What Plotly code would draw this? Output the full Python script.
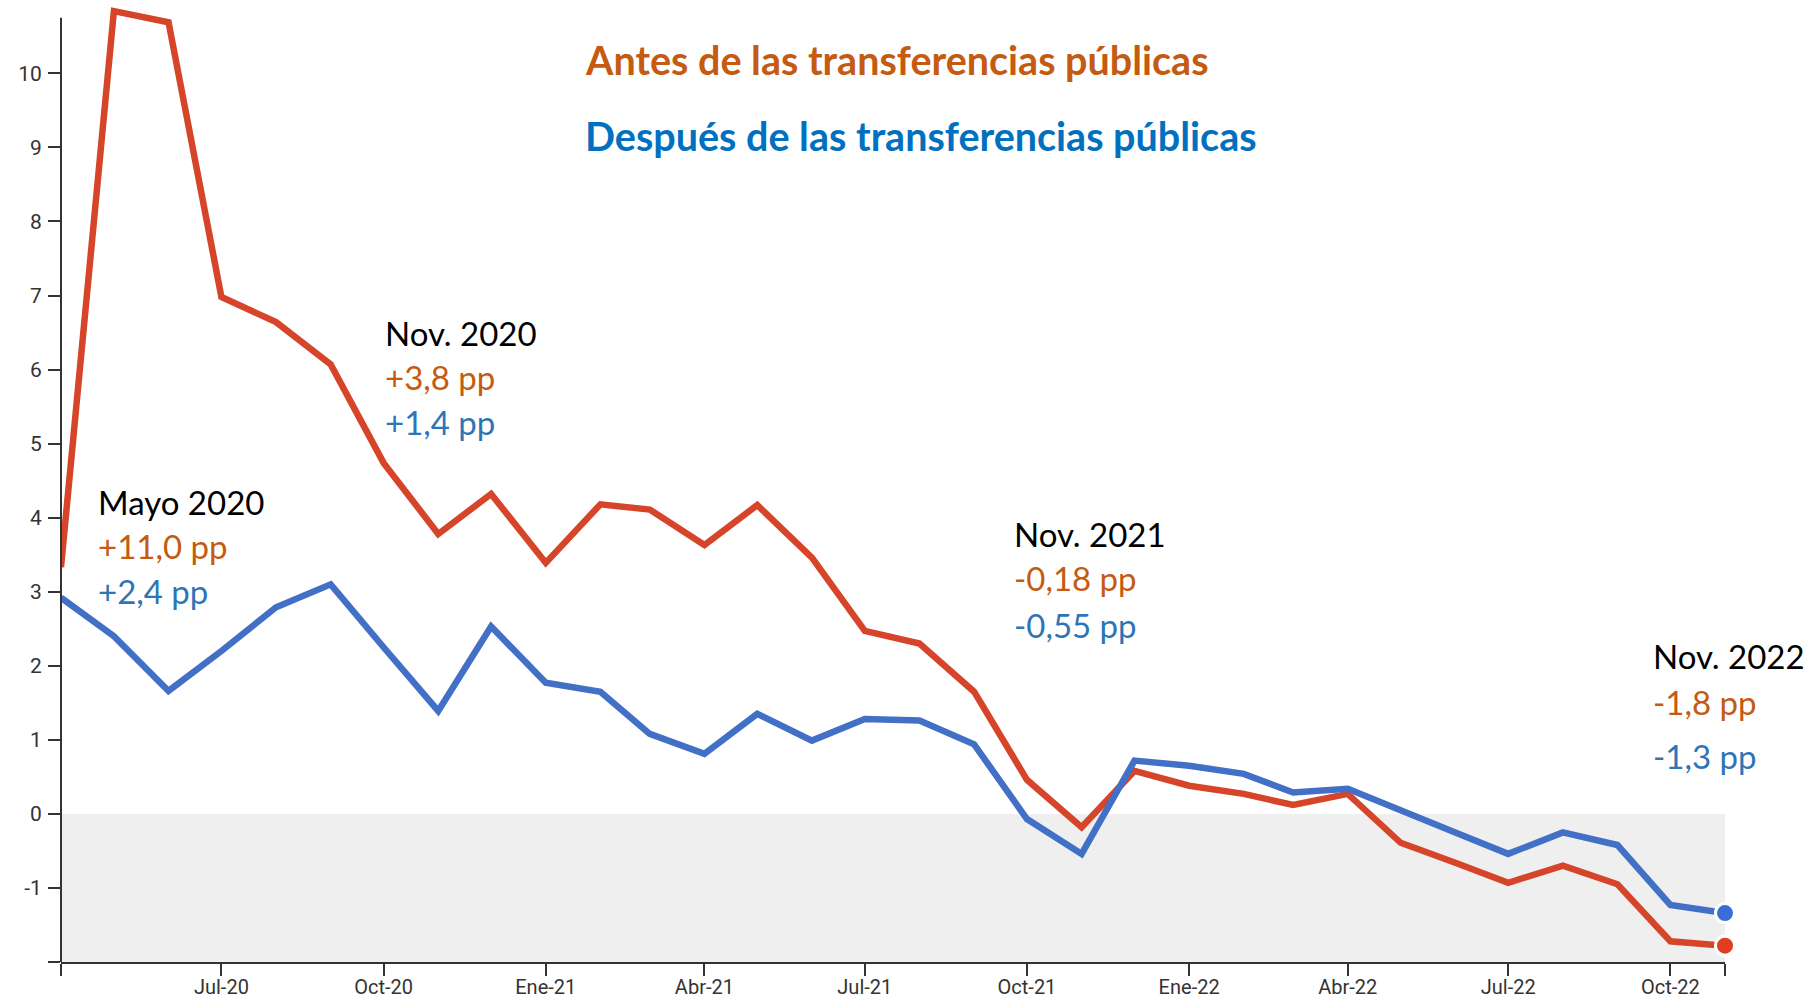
import plotly.graph_objects as go

# ---------------- data ----------------
months = ["2020-04-01", "2020-05-01", "2020-06-01", "2020-07-01", "2020-08-01", "2020-09-01",
          "2020-10-01", "2020-11-01", "2020-12-01", "2021-01-01", "2021-02-01", "2021-03-01",
          "2021-04-01", "2021-05-01", "2021-06-01", "2021-07-01", "2021-08-01", "2021-09-01",
          "2021-10-01", "2021-11-01", "2021-12-01", "2022-01-01", "2022-02-01", "2022-03-01",
          "2022-04-01", "2022-05-01", "2022-06-01", "2022-07-01", "2022-08-01", "2022-09-01",
          "2022-10-01", "2022-11-01"]

antes = [3.33, 10.84, 10.69, 6.98, 6.64, 6.07, 4.74, 3.78, 4.32, 3.39, 4.18, 4.11,
         3.63, 4.17, 3.46, 2.47, 2.30, 1.65, 0.46, -0.18, 0.58, 0.38, 0.27, 0.12,
         0.27, -0.39, -0.66, -0.93, -0.70, -0.95, -1.72, -1.78]

despues = [2.92, 2.40, 1.66, 2.20, 2.79, 3.10, 2.25, 1.39, 2.53, 1.77, 1.65, 1.08,
           0.81, 1.35, 0.99, 1.28, 1.26, 0.94, -0.07, -0.54, 0.72, 0.65, 0.54, 0.29,
           0.34, 0.04, -0.25, -0.54, -0.25, -0.42, -1.23, -1.34]

x_tick_vals = ["2020-04-01", "2020-07-01", "2020-10-01", "2021-01-01", "2021-04-01",
               "2021-07-01", "2021-10-01", "2022-01-01", "2022-04-01", "2022-07-01",
               "2022-10-01", "2022-11-01"]
x_tick_text = ["", "Jul-20", "Oct-20", "Ene-21", "Abr-21", "Jul-21", "Oct-21",
               "Ene-22", "Abr-22", "Jul-22", "Oct-22", ""]

y_tick_vals = [-2, -1, 0, 1, 2, 3, 4, 5, 6, 7, 8, 9, 10]
y_tick_text = ["", "-1", "0", "1", "2", "3", "4", "5", "6", "7", "8", "9", "10"]

title_antes = "Antes de las transferencias públicas"
title_despues = "Después de las transferencias públicas"

callouts = [
    ("Mayo 2020", "+11,0 pp", "+2,4 pp"),
    ("Nov. 2020", "+3,8 pp", "+1,4 pp"),
    ("Nov. 2021", "-0,18 pp", "-0,55 pp"),
    ("Nov. 2022", "-1,8 pp", "-1,3 pp"),
]

# ---------------- style ----------------
W, H = 1818, 1001
Y_MIN, Y_AXTOP, Y_TOP = -2, 10.75, 10.95
PX_PER_UNIT = 74.06
ML, MR, MB = 61, 93, 39
MT = round(H - MB - (Y_TOP - Y_MIN) * PX_PER_UNIT)
RED = "#D6442A"
BLUE = "#4170C6"
RED_DOT = "#E03F1F"
BLUE_DOT = "#3A6ED6"
ORANGE_TXT = "#C55A11"
BLUE_TXT = "#2E75B6"
BLUE_HEAD = "#0070C0"
AX = "#333333"
FONT = "Lato"

pw = W - ML - MR
ph = H - MT - MB


def px_x(px):
    return (px - ML) / pw


def px_y(py):
    return (H - MB - py) / ph


fig = go.Figure()

fig.add_shape(type="rect", xref="x", yref="y", x0=months[0], x1=months[-1], y0=Y_MIN, y1=0,
              fillcolor="#EFEFEF", line=dict(width=0), layer="below")
# y axis line (stops at the axis top, while the plot area leaves room for the peak)
fig.add_shape(type="line", xref="paper", yref="y", x0=0, x1=0, y0=Y_MIN, y1=Y_AXTOP,
              line=dict(color=AX, width=2), layer="above")

fig.add_trace(go.Scatter(x=months, y=antes, mode="lines",
                         line=dict(color=RED, width=6.5), cliponaxis=False,
                         hoverinfo="skip", showlegend=False))
fig.add_trace(go.Scatter(x=months, y=despues, mode="lines",
                         line=dict(color=BLUE, width=6.5), cliponaxis=False,
                         hoverinfo="skip", showlegend=False))
fig.add_trace(go.Scatter(x=[months[-1]], y=[antes[-1]], mode="markers",
                         marker=dict(color=RED_DOT, size=19, line=dict(color="white", width=3)),
                         cliponaxis=False, hoverinfo="skip", showlegend=False))
fig.add_trace(go.Scatter(x=[months[-1]], y=[despues[-1]], mode="markers",
                         marker=dict(color=BLUE_DOT, size=19, line=dict(color="white", width=3)),
                         cliponaxis=False, hoverinfo="skip", showlegend=False))

annotations = []
HEAD_SIZE = 39.5
annotations.append(dict(text="<b>%s</b>" % title_antes, x=px_x(583), y=px_y(59.5),
                        xref="paper", yref="paper", xanchor="left", yanchor="middle",
                        showarrow=False, font=dict(family=FONT, size=HEAD_SIZE, color=ORANGE_TXT)))
annotations.append(dict(text="<b>%s</b>" % title_despues, x=px_x(583), y=px_y(135.5),
                        xref="paper", yref="paper", xanchor="left", yanchor="middle",
                        showarrow=False, font=dict(family=FONT, size=HEAD_SIZE, color=BLUE_HEAD)))

# callout positions: left px, centre px of each line
callout_pos = [
    (96, [502, 546, 591]),
    (383, [333, 377, 422]),
    (1012, [534, 578, 625]),
    (1651, [656, 702, 756]),
]
size_c = 33
for (t0, t1, t2), (lx, cys) in zip(callouts, callout_pos):
    for txt, cy, col in zip((t0, t1, t2), cys, ("black", ORANGE_TXT, BLUE_TXT)):
        annotations.append(dict(text=txt, x=px_x(lx), y=px_y(cy),
                                xref="paper", yref="paper", xanchor="left", yanchor="middle",
                                showarrow=False,
                                font=dict(family=FONT, size=size_c, color=col)))

fig.update_layout(
    width=W, height=H,
    margin=dict(l=ML, r=MR, t=MT, b=MB, pad=0, autoexpand=False),
    paper_bgcolor="white", plot_bgcolor="white",
    annotations=annotations,
    xaxis=dict(type="date", range=[months[0], months[-1]],
               tickvals=x_tick_vals, ticktext=x_tick_text,
               showgrid=False, zeroline=False, automargin=False,
               showline=True, linecolor=AX, linewidth=2,
               ticks="outside", ticklen=12, tickwidth=2, tickcolor=AX,
               ticklabelstandoff=-6,
               tickfont=dict(family="Roboto", size=20, color=AX)),
    yaxis=dict(range=[Y_MIN, Y_TOP], tickvals=y_tick_vals, ticktext=y_tick_text,
               showgrid=False, zeroline=False, automargin=False,
               showline=False,
               ticks="outside", ticklen=12, tickwidth=2, tickcolor=AX,
               ticklabelstandoff=2,
               tickfont=dict(family="Roboto", size=21, color=AX)),
)

fig.write_html("out.html", config={"displayModeBar": False},
               post_script="document.body.style.margin='0';document.body.style.overflow='hidden';")
